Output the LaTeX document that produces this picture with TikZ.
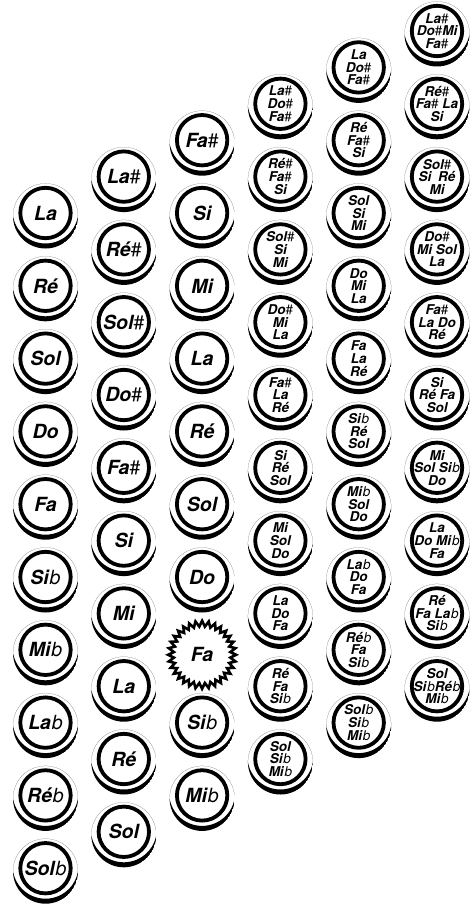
\documentclass[tikz,border=0pt]{standalone}
\usepackage{fontspec}
\setmainfont{TeX Gyre Heros}
\usetikzlibrary{shapes.geometric}
\newcommand\shp{{\mdseries\upshape\#}}
\newcommand\flt{\kern0.8pt{\mdseries b}}
\tikzset{
  ring/.style={circle, draw, line width=3.8pt, fill=white, minimum size=50.4pt, inner sep=0pt},
  bigl/.style={font=\fontsize{19.5}{19.5}\selectfont\bfseries\itshape, inner sep=0pt},
  smalll/.style={font=\fontsize{13.5}{12.6}\selectfont\bfseries\itshape, align=center, inner sep=0pt},
  burst/.style={star, star points=32, star point ratio=1.2, draw, line width=2.6pt, fill=white, minimum size=68pt, inner sep=0pt}
}
% name, x, y, label style, label
\newcommand\acbtn[5]{%
  \begin{scope}[shift={(#2,#3)}]
    \clip (0,3) circle[radius=32.5pt];
    \fill[even odd rule] (0,3) circle[radius=32.5pt] (0,-2.45) circle[radius=32.95pt];
  \end{scope}
  \node[ring] (#1) at (#2,#3) {};
  \node[#4] (#1-t) at (#2,#3) {#5};
}
\begin{document}
\begin{tikzpicture}[x=1pt,y=-1pt]
\useasboundingbox (0,0) rectangle (475,912);
% column 1
\foreach \lab [count=\i from 0] in {La,Ré,Sol,Do,Fa,Si\flt,Mi\flt,La\flt,Ré\flt,Sol\flt}
  {\acbtn{a\i}{45.5}{213+72.8*\i}{bigl}{\lab}}
% column 2
\foreach \lab [count=\i from 0] in {La\shp,Ré\shp,Sol\shp,Do\shp,Fa\shp,Si,Mi,La,Ré,Sol}
  {\acbtn{b\i}{123.8}{176.6+72.8*\i}{bigl}{\lab}}
% column 3
\foreach \lab/\i in {Fa\shp/0,Si/1,Mi/2,La/3,Ré/4,Sol/5,Do/6,Si\flt/8,Mi\flt/9}
  {\acbtn{c\i}{202.1}{140.2+72.8*\i}{bigl}{\lab}}
\node[burst] (c7) at (202.1,140.2+72.8*7+5) {};
\node[bigl] (c7-t) at (c7) {Fa};
% column 4
\foreach \lab [count=\i from 0] in {
  {La\shp\\Do\shp\\Fa\shp},{Ré\shp\\Fa\shp\\Si},{Sol\shp\\Si\\Mi},{Do\shp\\Mi\\La},
  {Fa\shp\\La\\Ré},{Si\\Ré\\Sol},{Mi\\Sol\\Do},{La\\Do\\Fa},{Ré\\Fa\\Si\flt},{Sol\\Si\flt\\Mi\flt}}
  {\acbtn{d\i}{280.4}{103.8+72.8*\i}{smalll}{\lab}}
% column 5
\foreach \lab [count=\i from 0] in {
  {La\\Do\shp\\Fa\shp},{Ré\\Fa\shp\\Si},{Sol\\Si\\Mi},{Do\\Mi\\La},
  {Fa\\La\\Ré},{Si\flt\\Ré\\Sol},{Mi\flt\\Sol\\Do},{La\flt\\Do\\Fa},{Ré\flt\\Fa\\Si\flt},{Sol\flt\\Si\flt\\Mi\flt}}
  {\acbtn{e\i}{358.7}{67.4+72.8*\i}{smalll}{\lab}}
% column 6
\foreach \lab [count=\i from 0] in {
  {La\shp\\Do\shp Mi\\Fa\shp},{Ré\shp\\Fa\shp{} La\\Si},{Sol\shp\\Si\enspace Ré\\Mi},{Do\shp\\Mi Sol\\La},
  {Fa\shp\\La Do\\Ré},{Si\\Ré Fa\\Sol},{Mi\\Sol Si\flt\\Do},{La\\Do Mi\flt\\Fa},{Ré\\Fa La\flt\\Si\flt},{Sol\\Si\flt Ré\flt\\Mi\flt}}
  {\acbtn{f\i}{437}{31+72.8*\i}{smalll}{\lab}}
\end{tikzpicture}
\end{document}
